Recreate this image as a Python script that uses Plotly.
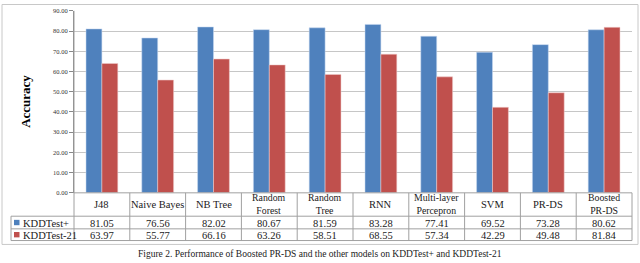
import plotly.graph_objects as go

W, H = 640, 263

categories = ["J48", "Naive Bayes", "NB Tree", "Random Forest", "Random Tree",
              "RNN", "Multi-layer Percepron", "SVM", "PR-DS", "Boosted PR-DS"]
cat_labels = ["J48", "Naive Bayes", "NB Tree", "Random<br>Forest", "Random<br>Tree",
              "RNN", "Multi-layer<br>Percepron", "SVM", "PR-DS", "Boosted<br>PR-DS"]
kdd_plus = [81.05, 76.56, 82.02, 80.67, 81.59, 83.28, 77.41, 69.52, 73.28, 80.62]
kdd_21 = [63.97, 55.77, 66.16, 63.26, 58.51, 68.55, 57.34, 42.29, 49.48, 81.84]
series_names = ["KDDTest+", "KDDTest-21"]
y_ticks = [0, 10, 20, 30, 40, 50, 60, 70, 80, 90]

BLUE = "#4F81BD"
RED = "#C0504D"
SERIF = "Liberation Serif"

def px(x):
    return x / W

def py(y):
    return 1 - y / H

PL, PR, PT, PB = 74, 632, 7, 194
ROW1, ROW2, ROW3 = 218, 231, 243
TL = 11

fig = go.Figure()
fig.add_trace(go.Bar(x=categories, y=kdd_plus, name=series_names[0],
                     marker=dict(color=BLUE, line=dict(color="rgba(200,215,240,0.9)", width=0.6))))
fig.add_trace(go.Bar(x=categories, y=kdd_21, name=series_names[1],
                     marker=dict(color=RED, line=dict(color="rgba(240,205,205,0.9)", width=0.6))))

shapes = []
line_col = "#A0A0A0"
shapes.append(dict(type="rect", xref="paper", yref="paper", x0=px(2), x1=px(638),
                   y0=py(247), y1=py(0.5), line=dict(color="#C8C8C8", width=1)))
for yy, x0 in [(PB, PL), (ROW1, TL), (ROW2, TL), (ROW3, TL)]:
    shapes.append(dict(type="line", xref="paper", yref="paper", x0=px(x0), x1=px(PR),
                       y0=py(yy), y1=py(yy), line=dict(color=line_col, width=1)))
shapes.append(dict(type="line", xref="paper", yref="paper", x0=px(TL), x1=px(TL),
                   y0=py(ROW1), y1=py(ROW3), line=dict(color=line_col, width=1)))
n = len(categories)
cw = (PR - PL) / n
for i in range(n + 1):
    xx = PL + i * cw
    shapes.append(dict(type="line", xref="paper", yref="paper", x0=px(xx), x1=px(xx),
                       y0=py(PB if i > 0 else PT), y1=py(ROW3),
                       line=dict(color=line_col, width=1)))
for yy, c in [((ROW1 + ROW2) / 2, BLUE), ((ROW2 + ROW3) / 2, RED)]:
    shapes.append(dict(type="rect", xref="paper", yref="paper", x0=px(14), x1=px(19.5),
                       y0=py(yy + 2.75), y1=py(yy - 2.75), fillcolor=c, line=dict(width=0)))

ann = []
tf = dict(family=SERIF, size=10.5, color="#1a1a1a")
for c, lab, a, b in zip(categories, cat_labels, kdd_plus, kdd_21):
    two = "<br>" in lab
    ann.append(dict(x=c, xref="x", y=py((PB + ROW1) / 2 - 0.5), yref="paper", text=lab,
                    showarrow=False,
                    font=dict(family=SERIF, size=10.5 if not two else 9.8, color="#1a1a1a"),
                    yanchor="middle"))
    ann.append(dict(x=c, xref="x", y=py((ROW1 + ROW2) / 2 + 0.5), yref="paper", text=f"{a:.2f}",
                    showarrow=False, font=tf, yanchor="middle"))
    ann.append(dict(x=c, xref="x", y=py((ROW2 + ROW3) / 2 + 0.5), yref="paper", text=f"{b:.2f}",
                    showarrow=False, font=tf, yanchor="middle"))
for yy, name in [((ROW1 + ROW2) / 2 + 0.5, series_names[0]), ((ROW2 + ROW3) / 2 + 0.5, series_names[1])]:
    ann.append(dict(x=px(20.5), xref="paper", y=py(yy), yref="paper", text=name,
                    showarrow=False, xanchor="left", yanchor="middle", font=tf))
ann.append(dict(x=px(16), xref="paper", y=py(100), yref="paper", text="<b>Accuracy</b>",
                textangle=-90, showarrow=False, font=dict(family=SERIF, size=13, color="#000")))
ann.append(dict(x=0.5, xref="paper", y=py(257), yref="paper",
                text="Figure 2. Performance of Boosted PR-DS and the other models on KDDTest+ and KDDTest-21",
                showarrow=False, yanchor="middle", font=dict(family=SERIF, size=9.5, color="#222")))

fig.update_layout(
    width=W, height=H, autosize=False,
    margin=dict(l=0, r=0, t=0, b=0),
    paper_bgcolor="white", plot_bgcolor="white",
    barmode="group", bargap=0.43, bargroupgap=0,
    showlegend=False,
    shapes=shapes, annotations=ann,
    xaxis=dict(domain=[px(PL), px(PR)], showticklabels=False, showgrid=False,
               zeroline=False, showline=False, ticks=""),
    yaxis=dict(domain=[py(PB), py(PT)], range=[0, 90], tickvals=y_ticks,
               tickformat=".2f", ticks="outside", ticklen=4, tickcolor="#888",
               showline=True, linecolor="#888", linewidth=1,
               showgrid=True, gridcolor="#C6C6C6", gridwidth=1, zeroline=False,
               tickfont=dict(family=SERIF, size=6.5, color="#333")),
)

fig.write_html("out.html", config={"displayModeBar": False},
               post_script="document.body.style.margin='0';document.body.style.overflow='hidden';")
